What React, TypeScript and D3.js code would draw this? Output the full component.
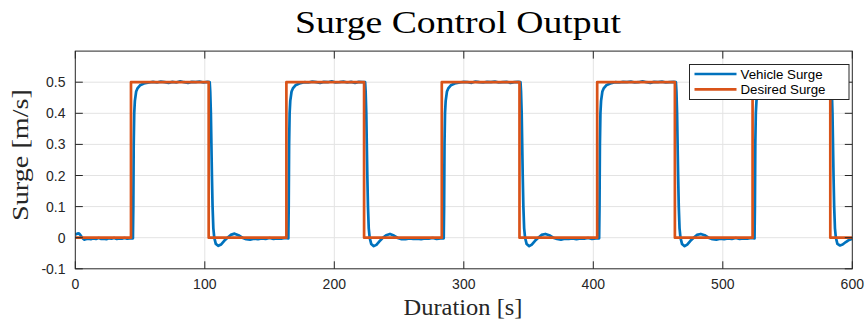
import React from "react";
import * as d3 from "d3";

// ---- data ----
const xTicks = [0, 100, 200, 300, 400, 500, 600];
const xTickLabels = ["0", "100", "200", "300", "400", "500", "600"];
const yTicks = [-0.1, 0, 0.1, 0.2, 0.3, 0.4, 0.5];
const yTickLabels = ["-0.1", "0", "0.1", "0.2", "0.3", "0.4", "0.5"];

const desiredTime = [0, 43, 103, 163, 223, 283, 343, 403, 463, 523, 583, 600];
const desiredSurge = [0, 0.5, 0, 0.5, 0, 0.5, 0, 0.5, 0, 0.5, 0, 0];

const vehicleStart: [number, number][] = [
  [0, 0.01], [1, 0.012], [2, 0.014], [3, 0.013], [4, 0.008], [5, 0.002], [6, -0.003], [7, -0.006],
  [8, -0.005], [10, -0.003], [12, -0.005], [14, -0.002], [16, -0.004], [18, -0.001], [20, -0.004],
  [22, -0.003], [24, -0.005], [26, -0.002], [28, -0.003], [30, -0.001], [32, -0.004], [34, -0.002],
  [36, -0.003], [38, -0.001], [40, -0.003], [42, -0.002], [44.5, -0.002],
];
const vehicleCycle1: [number, number][] = [
  [44.8, 0.1], [45.1, 0.3], [45.5, 0.4], [46, 0.44], [47, 0.47], [48, 0.48], [50, 0.49], [53, 0.496],
  [57, 0.499], [60, 0.501], [63, 0.499], [66, 0.502], [69, 0.5], [72, 0.498], [75, 0.501], [78, 0.499],
  [81, 0.503], [84, 0.5], [87, 0.498], [90, 0.501], [93, 0.5], [96, 0.502], [99, 0.499], [102, 0.501],
  [103.8, 0.5], [104.2, 0.47], [104.7, 0.4], [105.5, 0.2], [106, 0.1], [106.6, 0.03], [107.3, 0],
  [108.5, -0.02], [110.5, -0.026], [112.5, -0.022], [115, -0.01], [117.5, 0], [120, 0.009], [123, 0.013],
  [126, 0.008], [129, 0], [132, -0.005], [135, -0.006], [138, -0.003], [141, -0.005], [144, -0.002],
  [147, -0.004], [150, -0.001], [153, -0.004], [156, -0.002], [159, -0.003], [162, -0.001], [164.5, -0.002],
];
const vehicleCycle2: [number, number][] = [
  [164.8, 0.1], [165.1, 0.3], [165.5, 0.4], [166, 0.44], [167, 0.47], [168, 0.48], [170, 0.49],
  [173, 0.496], [177, 0.5], [180, 0.499], [183, 0.502], [186, 0.5], [189, 0.498], [192, 0.501], [195, 0.5],
  [198, 0.503], [201, 0.499], [204, 0.5], [207, 0.502], [210, 0.499], [213, 0.501], [216, 0.498],
  [219, 0.501], [222, 0.5], [223.8, 0.5], [224.2, 0.47], [224.7, 0.4], [225.5, 0.2], [226, 0.1],
  [226.6, 0.03], [227.3, 0], [228.5, -0.02], [230.5, -0.027], [232.5, -0.023], [235, -0.011], [237.5, 0],
  [240, 0.008], [243, 0.012], [246, 0.007], [249, -0.001], [252, -0.005], [255, -0.005], [258, -0.002],
  [261, -0.004], [264, -0.003], [267, -0.005], [270, -0.002], [273, -0.003], [276, -0.001], [279, -0.004],
  [282, -0.002], [284.5, -0.002],
];
const vehicleCycle3: [number, number][] = [
  [284.8, 0.1], [285.1, 0.3], [285.5, 0.4], [286, 0.44], [287, 0.47], [288, 0.48], [290, 0.49],
  [293, 0.496], [297, 0.499], [300, 0.501], [303, 0.5], [306, 0.498], [309, 0.502], [312, 0.5], [315, 0.499],
  [318, 0.501], [321, 0.5], [324, 0.502], [327, 0.499], [330, 0.5], [333, 0.501], [336, 0.498], [339, 0.5],
  [342, 0.501], [343.8, 0.5], [344.2, 0.47], [344.7, 0.4], [345.5, 0.2], [346, 0.1], [346.6, 0.03],
  [347.3, 0], [348.5, -0.02], [350.5, -0.027], [352.5, -0.022], [355, -0.01], [357.5, 0], [360, 0.009],
  [363, 0.012], [366, 0.008], [369, 0], [372, -0.004], [375, -0.006], [378, -0.003], [381, -0.004],
  [384, -0.002], [387, -0.005], [390, -0.002], [393, -0.003], [396, -0.001], [399, -0.004], [402, -0.002],
  [404.5, -0.002],
];
const vehicleCycle4: [number, number][] = [
  [404.8, 0.1], [405.1, 0.3], [405.5, 0.4], [406, 0.44], [407, 0.47], [408, 0.48], [410, 0.49],
  [413, 0.496], [417, 0.5], [420, 0.499], [423, 0.501], [426, 0.5], [429, 0.502], [432, 0.499], [435, 0.5],
  [438, 0.503], [441, 0.5], [444, 0.498], [447, 0.501], [450, 0.5], [453, 0.502], [456, 0.499], [459, 0.5],
  [462, 0.501], [463.8, 0.5], [464.2, 0.47], [464.7, 0.4], [465.5, 0.2], [466, 0.1], [466.6, 0.03],
  [467.3, 0], [468.5, -0.02], [470.5, -0.027], [472.5, -0.022], [475, -0.01], [477.5, 0], [480, 0.009],
  [483, 0.012], [486, 0.008], [489, 0], [492, -0.005], [495, -0.006], [498, -0.003], [501, -0.005],
  [504, -0.002], [507, -0.004], [510, -0.001], [513, -0.004], [516, -0.002], [519, -0.003], [522, -0.001],
  [524.5, -0.002],
];
const vehicleCycle5: [number, number][] = [
  [524.8, 0.1], [525.1, 0.3], [525.5, 0.4], [526, 0.44], [527, 0.47], [528, 0.48], [530, 0.49],
  [533, 0.496], [537, 0.499], [540, 0.501], [543, 0.5], [546, 0.502], [549, 0.499], [552, 0.5], [555, 0.501],
  [558, 0.498], [561, 0.5], [564, 0.502], [567, 0.5], [570, 0.499], [573, 0.501], [576, 0.5], [579, 0.502],
  [582, 0.5], [583.8, 0.5], [584.2, 0.47], [584.7, 0.4], [585.5, 0.2], [586, 0.1], [586.6, 0.03],
  [587.3, 0], [588.5, -0.02], [590.5, -0.025], [592.5, -0.022], [595, -0.014], [597.5, -0.007], [600, -0.003],
];

const vehicleSurge = [
  ...vehicleStart, ...vehicleCycle1, ...vehicleCycle2, ...vehicleCycle3, ...vehicleCycle4, ...vehicleCycle5,
];

const seriesNames = ["Vehicle Surge", "Desired Surge"];
const seriesColors = ["#0072BD", "#D95319"];

// ---- layout ----
const W = 866;
const H = 322;
const plotLeft = 75.3;
const plotRight = 852.3;
const plotTop = 51.1;
const plotBottom = 268.8;
const axisColor = "#262626";
const gridColor = "#e3e3e3";
const tickLen = 7.5;
const serif = "'Liberation Serif', 'Times New Roman', serif";
const sans = "'Liberation Sans', Arial, Helvetica, sans-serif";

export default function App() {
  const x = d3.scaleLinear().domain([0, 600]).range([plotLeft, plotRight]);
  const y = d3.scaleLinear().domain([-0.1, 0.6]).range([plotBottom, plotTop]);

  const vehicleLine = d3
    .line<[number, number]>()
    .x((d) => x(d[0]))
    .y((d) => y(d[1]));

  const desiredPts: [number, number][] = desiredTime.map((t, i) => [t, desiredSurge[i]]);
  const desiredLine = d3
    .line<[number, number]>()
    .x((d) => x(d[0]))
    .y((d) => y(d[1]))
    .curve(d3.curveStepAfter);

  const legX = 689.5;
  const legY = 64.5;
  const legW = 159.5;
  const legH = 35;

  return (
    <svg
      width={W}
      height={H}
      style={{ position: "absolute", left: 0, top: 0, background: "#fff" }}
    >
      <rect x={0} y={0} width={W} height={H} fill="#fff" />
      <defs>
        <clipPath id="plotClip">
          <rect x={plotLeft} y={plotTop} width={plotRight - plotLeft} height={plotBottom - plotTop} />
        </clipPath>
      </defs>

      {/* grid */}
      <g stroke={gridColor} strokeWidth={1}>
        {xTicks.slice(1, -1).map((t) => (
          <line key={"gx" + t} x1={x(t)} x2={x(t)} y1={plotTop} y2={plotBottom} />
        ))}
        {yTicks.slice(1).map((t) => (
          <line key={"gy" + t} x1={plotLeft} x2={plotRight} y1={y(t)} y2={y(t)} />
        ))}
      </g>

      {/* series */}
      <g clipPath="url(#plotClip)" fill="none" strokeLinejoin="round">
        <path d={vehicleLine(vehicleSurge) || ""} stroke={seriesColors[0]} strokeWidth={2.7} />
        <path d={desiredLine(desiredPts) || ""} stroke={seriesColors[1]} strokeWidth={2.7} />
      </g>

      {/* box + ticks */}
      <g stroke={axisColor} strokeWidth={1} fill="none">
        <rect x={plotLeft} y={plotTop} width={plotRight - plotLeft} height={plotBottom - plotTop} />
        {xTicks.map((t) => (
          <g key={"tx" + t}>
            <line x1={x(t)} x2={x(t)} y1={plotBottom} y2={plotBottom - tickLen} />
            <line x1={x(t)} x2={x(t)} y1={plotTop} y2={plotTop + tickLen} />
          </g>
        ))}
        {yTicks.map((t) => (
          <g key={"ty" + t}>
            <line x1={plotLeft} x2={plotLeft + tickLen} y1={y(t)} y2={y(t)} />
            <line x1={plotRight} x2={plotRight - tickLen} y1={y(t)} y2={y(t)} />
          </g>
        ))}
      </g>

      {/* tick labels */}
      <g fontFamily={sans} fontSize={14} fill={axisColor}>
        {xTicks.map((t, i) => (
          <text key={"lx" + t} x={x(t)} y={289} textAnchor="middle">
            {xTickLabels[i]}
          </text>
        ))}
        {yTicks.map((t, i) => (
          <text key={"ly" + t} x={65.5} y={y(t) + 5} textAnchor="end">
            {yTickLabels[i]}
          </text>
        ))}
      </g>

      {/* title and axis labels */}
      <text
        x={458}
        y={33}
        textAnchor="middle"
        fontFamily={serif}
        fontSize={32}
        fill="#000"
        textLength={326}
        lengthAdjust="spacingAndGlyphs"
      >
        Surge Control Output
      </text>
      <text
        x={463}
        y={315}
        textAnchor="middle"
        fontFamily={serif}
        fontSize={23}
        fill="#262626"
        textLength={119}
        lengthAdjust="spacingAndGlyphs"
      >
        Duration [s]
      </text>
      <text
        transform={`translate(28,155) rotate(-90)`}
        textAnchor="middle"
        fontFamily={serif}
        fontSize={24}
        fill="#262626"
        textLength={132}
        lengthAdjust="spacingAndGlyphs"
      >
        Surge [m/s]
      </text>

      {/* legend */}
      <g>
        <rect x={legX} y={legY} width={legW} height={legH} fill="#fff" stroke={axisColor} strokeWidth={1} />
        {seriesNames.map((name, i) => {
          const cy = legY + 9.5 + i * 15.3;
          return (
            <g key={name}>
              <line x1={legX + 5} x2={legX + 47} y1={cy} y2={cy} stroke={seriesColors[i]} strokeWidth={2.7} />
              <text x={legX + 51} y={cy + 4.6} fontFamily={sans} fontSize={13.3} fill="#000">
                {name}
              </text>
            </g>
          );
        })}
      </g>
    </svg>
  );
}
